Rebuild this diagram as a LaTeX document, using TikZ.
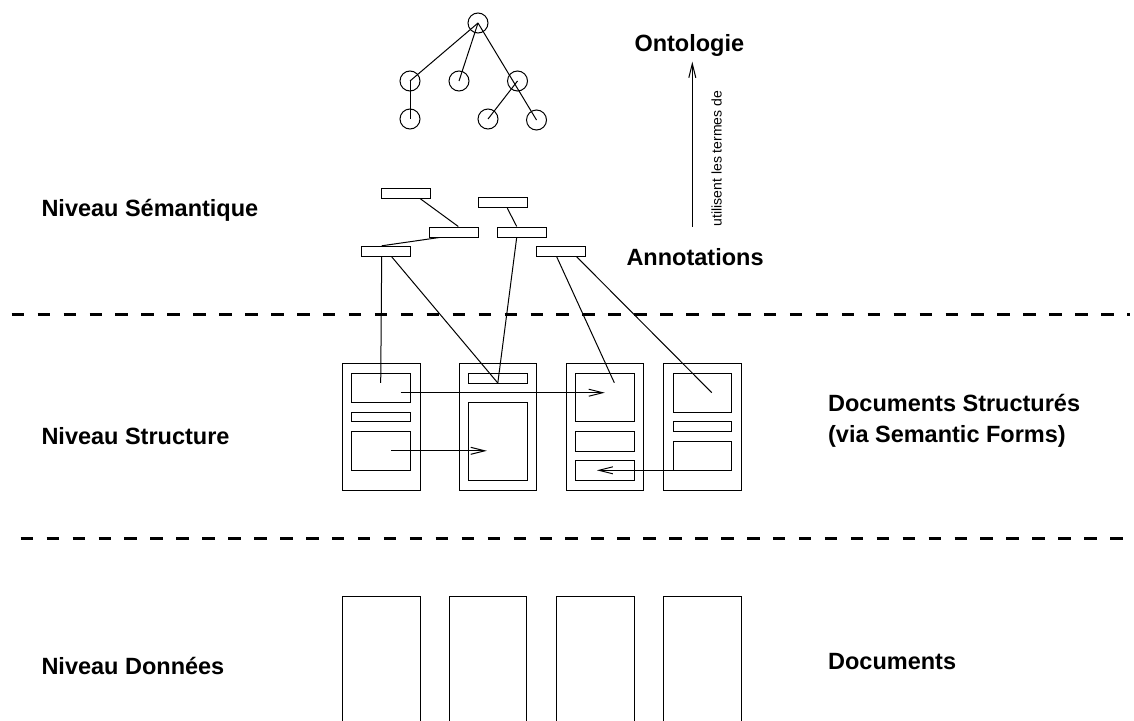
\documentclass[tikz,border=0pt]{standalone}
\usepackage{fontspec}
\setmainfont{Liberation Sans}
\usetikzlibrary{arrows.meta}

% rectangle node given by its two corners: name, x1, y1, x2, y2
\newcommand\docbox[5]{%
  \node[part, minimum width={#4-#2}, minimum height={#5-#3}] (#1) at ({(#2+#4)/2},{(#3+#5)/2}) {};}

\begin{document}
\begin{tikzpicture}[x=1pt, y=-1pt,
  line width=1pt,
  lbl/.style={font=\fontsize{23.5}{31}\selectfont\bfseries, inner sep=0pt, anchor=base west},
  small/.style={font=\fontsize{14}{16}\selectfont, inner sep=0pt},
  concept/.style={draw, circle, minimum size=20pt, inner sep=0pt},
  annot/.style={draw, rectangle, minimum width=49pt, minimum height=10pt, inner sep=0pt},
  part/.style={draw, rectangle, inner sep=0pt, outer sep=0pt},
  link/.style={line width=1pt},
  arr/.style={line width=1pt, -{Straight Barb[length=14pt,width=7pt]}},
  sep/.style={line width=3pt, dash pattern=on 12.5pt off 13.44pt}
]
\clip (0,0) rectangle (1134,720);

% ---------- ontology tree ----------
\node[concept] (root) at (478,23) {};
\node[concept] (c1) at (410,81) {};
\node[concept] (c2) at (459,81) {};
\node[concept] (c3) at (517.5,81) {};
\node[concept] (l1) at (410,119) {};
\node[concept] (l2) at (488,119) {};
\node[concept] (l3) at (536.5,120) {};
\draw[link] (root.center) -- (c1.center);
\draw[link] (root.center) -- (c2.center);
\draw[link] (root.center) -- (l3.center);
\draw[link] (c1.center) -- (l1.center);
\draw[link] (c3.center) -- (l2.center);

% ---------- annotations ----------
\node[annot] (A) at (405.5,193) {};
\node[annot] (B) at (503,202.7) {};
\node[annot] (C) at (454,232) {};
\node[annot] (D) at (522,232) {};
\node[annot] (E) at (386,251.3) {};
\node[annot] (F) at (561,251.3) {};
\draw[link] ([xshift=14.5pt]A.south) -- ([xshift=4.3pt]C.north);
\draw[link] ([xshift=4.3pt]B.south) -- ([xshift=-5.3pt]D.north);
\draw[link] ([xshift=-14.7pt]C.south) -- ([xshift=-4.3pt]E.north);

% ---------- structured documents ----------
\docbox{d1}{342.3}{363.3}{420}{490}
\docbox{d1a}{351.7}{373.3}{410.3}{402.3}
\docbox{d1b}{351.7}{412}{410.3}{421.7}
\docbox{d1c}{351.7}{431.3}{410.3}{470.3}
\docbox{d2}{459}{363.3}{536.7}{490}
\docbox{d2a}{468.3}{373.3}{527.3}{383}
\docbox{d2b}{468.3}{402.3}{527.3}{480.3}
\docbox{d3}{566}{363.3}{643.3}{490}
\docbox{d3a}{575.3}{373.3}{634.3}{421.7}
\docbox{d3b}{575.3}{431.3}{634.3}{451}
\docbox{d3c}{575.3}{460.7}{634.3}{480.3}
\docbox{d4}{663.3}{363.3}{741}{490}
\docbox{d4a}{673}{373.3}{731.7}{412}
\docbox{d4b}{673}{421.7}{731.7}{431.3}
\docbox{d4c}{673}{441}{731.7}{470.3}

% annotations attached to document parts
\draw[link] ([xshift=-4.3pt]E.south) -- ([xshift=-0.3pt,yshift=5pt]d1a.center);
\draw[link] ([xshift=5.7pt]E.south) -- (d2a.south);
\draw[link] ([xshift=-5.3pt]D.south) -- (d2a.south);
\draw[link] ([xshift=-4.3pt]F.south) -- ([xshift=9.5pt,yshift=14.8pt]d3a.center);
\draw[link] ([xshift=15.7pt]F.south) -- ([xshift=9.4pt]d4a.center);

% links between document parts
\coordinate (s1) at ([xshift=19.7pt,yshift=-4.9pt]d1a.center);
\draw[arr] (s1) -- (s1 -| d3a.center);
\coordinate (s2) at ([xshift=10pt]d1c.center);
\coordinate (t2) at ([xshift=-11pt]d2b.center);
\draw[arr] (s2) -- (s2 -| t2);
\coordinate (t3) at ([xshift=-8pt]d3c.center);
\draw[arr] (d4c.south east) -- (d4c.south east -| t3);

% ---------- raw documents ----------
\docbox{b1}{342.3}{596.7}{420}{740}
\docbox{b2}{449}{596.7}{526.7}{740}
\docbox{b3}{556}{596.7}{634}{740}
\docbox{b4}{663.3}{596.7}{741}{740}

% ---------- level separators ----------
\coordinate (sepAw) at (11.7,314);
\coordinate (sepAe) at (1130,314);
\coordinate (sepBw) at (20.7,538);
\coordinate (sepBe) at (1124,538);
\draw[sep] (sepAw) -- (sepAe);
\draw[sep] (sepBw) -- (sepBe);

% ---------- labels ----------
\node[lbl] (nsem) at (41,216.7) {Niveau Sémantique};
\node[lbl] (nstr) at (41,444.4) {Niveau Structure};
\node[lbl] (ndon) at (41,674) {Niveau Données};
\node[lbl] (onto) at (634,51.7) {Ontologie};
\node[lbl] (anno) at (626,265) {Annotations};
\node[lbl] (dstr) at (827.6,411.7) {Documents Structurés};
\node[lbl] (dvia) at (827.6,442.7) {(via Semantic Forms)};
\node[lbl] (docs) at (827.6,669) {Documents};

% "uses the terms of" arrow
\coordinate (upS) at (692.3,226.7);
\coordinate (upE) at (692.3,61.7);
\draw[arr] (upS) -- (upE);
\node[small, rotate=90, anchor=base west] (uses) at (721.7,226.7) {utilisent les termes de};
\end{tikzpicture}
\end{document}
